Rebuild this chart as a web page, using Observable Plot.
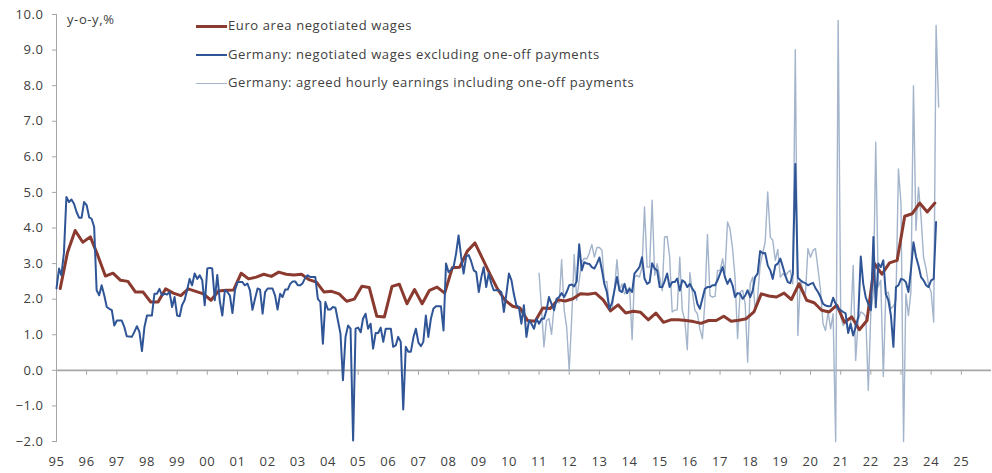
<!DOCTYPE html>
<html><head><meta charset="utf-8">
<script src="https://cdn.jsdelivr.net/npm/d3@7"></script>
<script src="https://cdn.jsdelivr.net/npm/@observablehq/plot@0.6"></script>
<style>
body{margin:0;background:#fff;}
#wrap{position:relative;width:992px;height:473px;font-family:"Open Sans",sans-serif;color:#404040;}
.row{position:absolute;left:196px;height:18px;line-height:18px;font-size:13px;white-space:nowrap;letter-spacing:0.6px;}
.sw{display:inline-block;width:31px;vertical-align:middle;margin-right:1px;}
.unit{position:absolute;left:67px;top:10px;font-size:13px;line-height:18px;letter-spacing:0.6px;}
svg text{letter-spacing:0.6px;}
</style></head><body>
<div id="wrap"></div>
<script>
// Series labels
const seriesNames = ["Euro area negotiated wages", "Germany: negotiated wages excluding one-off payments", "Germany: agreed hourly earnings including one-off payments"];
const seriesColors = ["#8b3a2f", "#2f5597", "#a3b4cb"];
const unitLabel = "y-o-y,%";

// Euro area negotiated wages, quarterly from 1995Q1
const euroStartYear = 1995;
const euroWages = [
  2.3, 3.32, 3.93, 3.6,
  3.75, 3.23, 2.65, 2.73,
  2.53, 2.5, 2.2, 2.2,
  1.92, 1.92, 2.29, 2.17,
  2.1, 2.29, 2.22, 2.15,
  1.97, 2.23, 2.25, 2.26,
  2.73, 2.57, 2.62, 2.7,
  2.64, 2.76, 2.7, 2.68,
  2.7, 2.55, 2.48, 2.2,
  2.22, 2.15, 1.94, 2.0,
  2.36, 2.33, 1.52, 1.5,
  2.36, 2.42, 1.87, 2.27,
  1.87, 2.25, 2.34, 2.17,
  2.88, 2.9, 3.35, 3.58,
  3.14, 2.71, 2.29, 1.97,
  1.8, 1.75, 1.4, 1.38,
  1.75, 1.74, 1.98, 1.95,
  2.01, 2.15, 2.14, 2.17,
  1.98, 1.67, 1.84, 1.61,
  1.66, 1.63, 1.42, 1.61,
  1.35, 1.42, 1.42, 1.40,
  1.37, 1.32, 1.40, 1.40,
  1.52, 1.38, 1.41, 1.45,
  1.64, 2.15, 2.09, 2.06,
  2.17, 1.99, 2.43, 1.97,
  1.9, 1.69, 1.64, 1.83,
  1.35, 1.5, 1.14, 1.4,
  3.0, 2.7, 3.02, 3.09,
  4.33, 4.4, 4.7, 4.45,
  4.7
];

// Germany negotiated wages excl. one-offs, monthly from Jan 1995
const deWagesStartYear = 1995;
const deWages = [
  2.3, 2.86, 2.67, 3.3, 4.87, 4.73, 4.8, 4.68, 4.45, 4.29, 4.29, 4.73,
  4.64, 4.3, 4.26, 4.03, 2.25, 2.11, 2.39, 2.11, 1.78, 1.73, 1.69, 1.26,
  1.4, 1.4, 1.4, 1.22, 0.96, 0.95, 0.94, 1.08, 1.24, 1.08, 0.54, 1.22,
  1.54, 1.54, 1.54, 2.15, 2.15, 2.29, 2.11, 2.15, 2.13, 2.2, 1.78, 2.06,
  1.54, 1.52, 1.83, 1.97, 2.25, 2.57, 2.39, 2.72, 2.57, 2.67, 2.53, 1.83,
  2.86, 2.88, 2.86, 1.97, 2.68, 1.94, 1.54, 2.25, 2.2, 2.1, 1.61, 2.25,
  2.48, 2.48, 2.48, 2.39, 2.44, 2.25, 1.7, 2.01, 2.3, 2.27, 1.59, 2.2,
  2.3, 2.3, 2.3, 2.1, 1.71, 2.15, 2.06, 2.27, 2.27, 2.43, 2.5, 2.5,
  2.39, 2.39, 2.45, 2.6, 2.67, 2.62, 2.62, 2.62, 2.01, 1.92, 0.75, 1.92,
  1.71, 1.71, 1.78, 1.76, 1.4, 1.03, -0.28, 0.94, 1.26, 1.17, -1.97, 1.17,
  1.2, 1.07, 1.45, 1.59, 1.17, 1.31, 0.61, 1.05, 1.05, 1.2, 0.8, 1.17,
  1.17, 1.17, 0.66, 0.7, 0.94, 0.8, -1.1, 0.66, 0.52, 0.52, 0.92, 1.17,
  0.78, 0.68, 0.8, 1.54, 0.94, 1.45, 1.73, 1.8, 1.8, 1.8, 1.12, 3.0,
  2.76, 2.83, 2.9, 3.28, 3.79, 3.2, 2.72, 3.2, 3.24, 3.06, 2.81, 2.76,
  2.2, 2.62, 2.9, 2.34, 2.72, 2.44, 2.25, 2.25, 2.25, 2.2, 1.64, 2.15,
  2.72, 2.53, 2.15, 1.83, 1.78, 1.31, 1.83, 0.94, 1.4, 1.31, 1.17, 1.45,
  1.31, 1.45, 1.45, 1.69, 2.06, 1.87, 1.69, 2.01, 2.06, 2.17, 2.06, 2.2,
  2.39, 2.41, 2.36, 2.5, 3.54, 2.81, 3.04, 3.0, 2.99, 2.9, 2.86, 3.0,
  3.17, 2.81, 2.43, 2.2, 1.73, 1.89, 2.24, 2.62, 2.24, 2.2, 2.43, 2.17,
  2.29, 2.2, 2.72, 2.81, 2.9, 3.18, 2.58, 2.43, 2.48, 3.01, 2.86, 2.81,
  2.34, 2.34, 2.5, 2.72, 2.34, 2.48, 2.48, 2.58, 2.24, 2.53, 2.48, 2.34,
  2.43, 2.29, 2.2, 1.87, 1.73, 2.01, 2.29, 2.34, 2.34, 2.39, 2.39, 2.53,
  2.72, 2.9, 2.62, 2.43, 2.57, 2.39, 2.06, 2.17, 2.15, 2.01, 2.1, 2.25,
  2.06, 2.25, 2.62, 2.72, 3.35, 3.29, 3.3, 2.95, 2.81, 2.57, 2.95, 3.0,
  3.14, 2.9, 2.67, 2.48, 2.45, 2.72, 5.8, 2.6, 2.53, 2.48, 2.45, 2.39,
  2.43, 2.46, 2.31, 2.2, 2.06, 1.87, 1.82, 1.8, 1.8, 2.04, 1.87, 1.73,
  1.69, 1.64, 1.6, 1.05, 1.31, 0.98, 1.22, 1.5, 3.2, 2.43, 2.04, 1.87,
  1.69, 3.75, 1.77, 3.0, 2.9, 3.09, 2.15, 1.97, 1.54, 0.66, 2.34, 2.39,
  2.57, 2.55, 2.48, 2.2, 2.81, 3.6, 3.2, 2.94, 2.62, 2.53, 2.39, 2.34,
  2.53, 2.57, 4.17
];

// Germany agreed hourly earnings incl. one-offs, monthly from Jan 2011
const deEarningsStartYear = 2011;
const deEarnings = [
  2.73, 1.69, 0.66, 1.4, 1.45, 1.01, 1.78, 1.92, 1.9, 3.11, 1.69, 1.22,
  0.0, 1.5, 3.26, 1.97, 2.53, 3.04, 3.15, 3.13, 3.3, 3.54, 3.18, 3.45,
  3.45, 3.37, 2.48, 2.5, 1.78, 1.69, 2.24, 3.11, 2.24, 2.43, 2.15, 2.24,
  2.34, 0.86, 2.62, 2.67, 2.62, 2.9, 4.59, 2.9, 2.9, 4.78, 2.67, 3.0,
  2.62, 2.24, 3.75, 3.76, 3.2, 1.64, 1.69, 1.7, 3.18, 1.69, 1.4, 0.58,
  2.75, 2.2, 1.69, 1.59, 1.17, 0.89, 1.92, 3.82, 2.1, 2.06, 2.08, 2.81,
  2.8, 3.14, 2.72, 4.17, 3.98, 3.42, 2.62, 0.89, 2.2, 2.25, 1.87, 0.23,
  2.43, 2.62, 1.69, 2.06, 2.95, 3.29, 3.6, 5.01, 3.75, 3.65, 3.09, 3.4,
  2.62, 2.72, 2.65, 2.75, 2.81, 2.43, 9.01, 0.98, 2.53, 2.25, 2.15, 3.42,
  3.18, 3.37, 3.42, 2.86, 2.25, 1.31, 1.12, 1.64, 1.17, 1.59, -2.0, 9.83,
  1.5, 1.26, 1.36, 1.12, 1.3, 2.95, 0.28, 1.41, 1.64, 1.6, 1.5, -0.56,
  1.64, 2.2, 6.41, 2.34, 2.53, -0.17, 2.15, 2.2, 1.73, 1.8, 1.97, 5.66,
  4.68, -2.0, 2.15, 1.54, 2.2, 8.0, 3.93, 5.15, 4.3, 3.18, 2.85, 2.4,
  2.2, 1.36, 9.69, 7.4
];

// Axis ticks
const yTicks = [-2, -1, 0, 1, 2, 3, 4, 5, 6, 7, 8, 9, 10];
const xTickYears = [1995,1996,1997,1998,1999,2000,2001,2002,2003,2004,2005,2006,2007,2008,2009,2010,
  2011,2012,2013,2014,2015,2016,2017,2018,2019,2020,2021,2022,2023,2024,2025];
const xDomainYears = [1995, 2026];

// Build tables
const euroData = euroWages.map((v, k) => ({date: new Date(Date.UTC(euroStartYear, 3 * k + 1, 15)), value: v}));
const wagesData = deWages.map((v, m) => ({date: new Date(Date.UTC(deWagesStartYear, m, 1)), value: v}));
const earnData = deEarnings.map((v, m) => ({date: new Date(Date.UTC(deEarningsStartYear, m, 1)), value: v}));
const xTicks = xTickYears.map(y => new Date(Date.UTC(y, 0, 1)));

const W = 992, H = 473, mT = 14, mB = 32, mL = 56, mR = 1;
const tickLen = 5 * (yTicks[yTicks.length - 1] - yTicks[0]) / (H - mT - mB);
const axisGray = "#a6a6a6";

const chart = Plot.plot({
  width: W, height: H,
  marginLeft: mL, marginRight: mR, marginTop: mT, marginBottom: mB,
  style: {fontFamily: "'Open Sans', sans-serif", fontSize: "13px", color: "#404040", background: "#fff", overflow: "visible"},
  x: {type: "utc", domain: xDomainYears.map(y => new Date(Date.UTC(y, 0, 1)))},
  y: {domain: [yTicks[0], yTicks[yTicks.length - 1]]},
  marks: [
    Plot.frame({anchor: "left", stroke: axisGray}),
    Plot.ruleY([0], {stroke: axisGray, strokeWidth: 1.6}),
    Plot.ruleX(xTicks, {x: d => d, y1: 0, y2: -tickLen, stroke: axisGray, strokeWidth: 1}),
    Plot.axisY({ticks: yTicks, tickFormat: d3.format(".1f"), tickSize: 4, tickPadding: 9, stroke: axisGray, fill: "#404040", fontSize: 13, label: null}),
    Plot.axisX({ticks: xTicks, tickFormat: d3.utcFormat("%y"), tickSize: 0, tickPadding: 15, fill: "#404040", fontSize: 13, label: null, anchor: "bottom"}),
    Plot.line(earnData, {x: "date", y: "value", stroke: seriesColors[2], strokeWidth: 1.4, strokeLinejoin: "round"}),
    Plot.line(euroData, {x: "date", y: "value", stroke: seriesColors[0], strokeWidth: 3, strokeLinejoin: "round"}),
    Plot.line(wagesData, {x: "date", y: "value", stroke: seriesColors[1], strokeWidth: 2, strokeLinejoin: "round"})
  ]
});

const wrap = document.getElementById("wrap");
wrap.appendChild(chart);

const unit = document.createElement("div");
unit.className = "unit";
unit.textContent = unitLabel;
wrap.appendChild(unit);

const rowTops = [16, 44.5, 73];
const swWidths = [3, 2, 1.5];
seriesNames.forEach((name, i) => {
  const row = document.createElement("div");
  row.className = "row";
  row.style.top = rowTops[i] + "px";
  const sw = document.createElement("span");
  sw.className = "sw";
  sw.style.borderTop = swWidths[i] + "px solid " + seriesColors[i];
  row.appendChild(sw);
  row.appendChild(document.createTextNode(name));
  wrap.appendChild(row);
});
</script>
</body></html>
